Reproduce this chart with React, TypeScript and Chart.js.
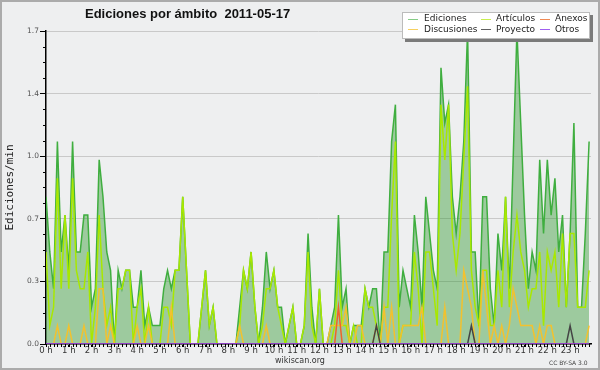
import React, { useEffect, useRef } from "react";
import { Chart, registerables } from "chart.js";

Chart.register(...registerables);

// 10-minute slots (0..143) across the day
const hourTicks = [0, 6, 12, 18, 24, 30, 36, 42, 48, 54, 60, 66, 72, 78, 84, 90, 96, 102, 108, 114, 120, 126, 132, 138];
const hourLabels = ["0 h", "1 h", "2 h", "3 h", "4 h", "5 h", "6 h", "7 h", "8 h", "9 h", "10 h", "11 h", "12 h", "13 h", "14 h", "15 h", "16 h", "17 h", "18 h", "19 h", "20 h", "21 h", "22 h", "23 h"];
const yTicks = [0, 0.34, 0.68, 1.02, 1.36, 1.7];
const yTickLabels = ["0.0", "0.3", "0.7", "1.0", "1.4", "1.7"];

const seriesNames = ["Ediciones", "Artículos", "Anexos", "Discusiones", "Proyecto", "Otros"];
const seriesColors = ["#3fae3f", "#a8e800", "#f0622a", "#f2c12e", "#444444", "#9a3cf0"];
const legendColors = ["#86cc86", "#c8ee50", "#f08a55", "#f6d060", "#606060", "#a060f0"];

const ediciones = [
  0.8, 0.5, 0.3, 1.1, 0.5, 0.7, 0.4, 1.1, 0.5, 0.5, 0.7, 0.7,
  0.2, 0.3, 1.0, 0.8, 0.5, 0.4, 0, 0.4, 0.3, 0.4, 0.4, 0.2,
  0.2, 0.4, 0.1, 0.2, 0.1, 0.1, 0.1, 0.3, 0.4, 0.3, 0.4, 0.4,
  0.8, 0.4, 0, 0, 0, 0.2, 0.4, 0.1, 0.2, 0, 0, 0,
  0, 0, 0, 0.2, 0.4, 0.3, 0.5, 0.2, 0, 0.2, 0.5, 0.3,
  0.4, 0.2, 0.2, 0, 0.1, 0.2, 0, 0, 0.1, 0.6, 0.2, 0,
  0.3, 0, 0, 0.1, 0.2, 0.7, 0.2, 0.3, 0, 0.1, 0.1, 0.1,
  0.3, 0.2, 0.3, 0.3, 0, 0.5, 0.5, 1.1, 1.3, 0.2, 0.4, 0.3,
  0.2, 0.7, 0.5, 0.2, 0.8, 0.6, 0.4, 0.3, 1.5, 1.2, 1.3, 0.8,
  0.6, 0.8, 1.1, 1.7, 0.5, 0.5, 0.1, 0.8, 0.8, 0.3, 0.1, 0.6,
  0.4, 0.8, 0.3, 1.0, 1.7, 1.2, 0.7, 0.3, 0.5, 0.4, 1.0, 0.6,
  1.0, 0.7, 0.9, 0.5, 0.7, 0.2, 0.6, 1.2, 0.2, 0.2, 0.6, 1.1,
];

const articulos = [
  0.5, 0.1, 0.2, 0.9, 0.3, 0.7, 0.3, 0.9, 0.4, 0.3, 0.3, 0.5,
  0, 0.2, 0.7, 0.3, 0.1, 0.2, 0, 0.3, 0.3, 0.4, 0.4, 0,
  0.2, 0.3, 0, 0.2, 0, 0, 0, 0.2, 0.2, 0.1, 0.4, 0.4,
  0.8, 0.4, 0, 0, 0, 0.2, 0.4, 0.1, 0.2, 0, 0, 0,
  0, 0, 0, 0.1, 0.4, 0.3, 0.5, 0.2, 0, 0.1, 0.3, 0.3,
  0.4, 0.2, 0.1, 0, 0.1, 0.2, 0, 0, 0.1, 0.5, 0.1, 0,
  0.3, 0, 0, 0, 0.1, 0.4, 0.1, 0.1, 0, 0.1, 0, 0,
  0.3, 0.2, 0.2, 0.1, 0, 0.2, 0.2, 0.7, 1.1, 0, 0.1, 0.1,
  0.1, 0.5, 0.3, 0, 0.5, 0.5, 0.3, 0.1, 1.3, 1.0, 1.3, 0.6,
  0.4, 0.6, 1.0, 1.4, 0.4, 0.2, 0.1, 0.4, 0.4, 0.1, 0.1, 0.4,
  0.2, 0.8, 0.2, 0.5, 0.7, 0.5, 0.4, 0.2, 0.3, 0.3, 0.5, 0.1,
  0.5, 0.4, 0.5, 0.2, 0.6, 0.2, 0.6, 0.6, 0.2, 0.2, 0.2, 0.4,
];

const anexos = [
  0, 0, 0, 0, 0, 0, 0, 0, 0, 0, 0, 0,
  0, 0, 0, 0, 0, 0, 0, 0, 0, 0, 0, 0,
  0, 0, 0, 0, 0, 0, 0, 0, 0, 0, 0, 0,
  0, 0, 0, 0, 0, 0, 0, 0, 0, 0, 0, 0,
  0, 0, 0, 0, 0, 0, 0, 0, 0, 0, 0, 0,
  0, 0, 0, 0, 0, 0, 0, 0, 0, 0, 0, 0,
  0, 0, 0, 0, 0, 0.2, 0, 0, 0, 0, 0, 0,
  0, 0, 0, 0, 0, 0, 0, 0, 0, 0, 0, 0,
  0, 0, 0, 0, 0, 0, 0, 0, 0, 0, 0, 0,
  0, 0, 0, 0, 0, 0, 0, 0, 0, 0, 0, 0,
  0, 0, 0, 0, 0, 0, 0, 0, 0, 0, 0, 0,
  0, 0, 0, 0, 0, 0, 0, 0, 0, 0, 0, 0,
];

const discusiones = [
  0, 0, 0, 0.1, 0, 0, 0.1, 0, 0, 0, 0.1, 0,
  0, 0, 0.3, 0.3, 0, 0.1, 0, 0, 0, 0, 0, 0,
  0.1, 0, 0, 0.1, 0, 0, 0, 0, 0, 0.2, 0, 0,
  0, 0, 0, 0, 0, 0, 0, 0, 0, 0, 0, 0,
  0, 0, 0, 0.1, 0, 0, 0, 0, 0, 0, 0.1, 0,
  0, 0, 0, 0, 0, 0, 0, 0, 0, 0, 0, 0,
  0, 0, 0, 0.1, 0.1, 0.1, 0.1, 0.2, 0, 0, 0.1, 0.1,
  0, 0, 0, 0.1, 0, 0.2, 0, 0.2, 0, 0, 0.1, 0.1,
  0.1, 0.1, 0.1, 0.2, 0, 0, 0, 0, 0, 0.2, 0, 0,
  0, 0, 0.4, 0.3, 0.2, 0, 0, 0.4, 0.2, 0, 0.1, 0,
  0.1, 0, 0.1, 0.3, 0.2, 0.1, 0.1, 0.1, 0.1, 0, 0.1, 0,
  0.1, 0.1, 0, 0, 0, 0, 0, 0, 0, 0, 0, 0.1,
];

const proyecto = [
  0, 0, 0, 0, 0, 0, 0, 0, 0, 0, 0, 0,
  0, 0, 0, 0, 0, 0, 0, 0, 0, 0, 0, 0,
  0, 0, 0, 0, 0, 0, 0, 0, 0, 0, 0, 0,
  0, 0, 0, 0, 0, 0, 0, 0, 0, 0, 0, 0,
  0, 0, 0, 0, 0, 0, 0, 0, 0, 0, 0, 0,
  0, 0, 0, 0, 0, 0, 0, 0, 0, 0, 0, 0,
  0, 0, 0, 0, 0, 0, 0, 0, 0, 0, 0, 0,
  0, 0, 0, 0.1, 0, 0, 0, 0, 0, 0, 0, 0,
  0, 0, 0, 0, 0, 0, 0, 0, 0, 0, 0, 0,
  0, 0, 0, 0, 0.1, 0, 0, 0, 0, 0, 0, 0,
  0, 0, 0, 0, 0, 0, 0, 0, 0, 0, 0, 0,
  0, 0, 0, 0, 0, 0, 0.1, 0, 0, 0, 0, 0,
];

const otros = [
  0, 0, 0, 0, 0, 0, 0, 0, 0, 0, 0, 0,
  0, 0, 0, 0, 0, 0, 0, 0, 0, 0, 0, 0,
  0, 0, 0, 0, 0, 0, 0, 0, 0, 0, 0, 0,
  0, 0, 0, 0, 0, 0, 0, 0, 0, 0, 0, 0,
  0, 0, 0, 0, 0, 0, 0, 0, 0, 0, 0, 0,
  0, 0, 0, 0, 0, 0, 0, 0, 0, 0, 0, 0,
  0, 0, 0, 0, 0, 0, 0, 0, 0, 0, 0, 0,
  0, 0, 0, 0, 0, 0, 0, 0, 0, 0, 0, 0,
  0, 0, 0, 0, 0, 0, 0, 0, 0, 0, 0, 0,
  0, 0, 0, 0, 0, 0, 0, 0, 0, 0, 0, 0,
  0, 0, 0, 0, 0, 0, 0, 0, 0, 0, 0, 0,
  0, 0, 0, 0, 0, 0, 0, 0, 0, 0, 0, 0,
];

const seriesValues = [ediciones, articulos, anexos, discusiones, proyecto, otros];
const seriesOrder = [6, 5, 3, 4, 2, 1];
const yMinorStep = 0.085;

const minorTicks = {
  id: "minorTicks",
  afterDraw(chart: any) {
    const { ctx, chartArea } = chart;
    const x = chart.scales.x;
    const y = chart.scales.y;
    ctx.save();
    ctx.strokeStyle = "#000";
    ctx.lineWidth = 1;
    ctx.beginPath();
    for (let i = 0; i < ediciones.length; i++) {
      const px = Math.round(x.getPixelForValue(i)) + 0.5;
      ctx.moveTo(px, chartArea.bottom);
      ctx.lineTo(px, chartArea.bottom + 3);
    }
    for (let k = 1; k < 20; k++) {
      if (k % 4 === 0) continue;
      const py = Math.round(y.getPixelForValue(k * yMinorStep)) + 0.5;
      ctx.moveTo(chartArea.left - 3, py);
      ctx.lineTo(chartArea.left, py);
    }
    ctx.stroke();
    ctx.restore();
  },
};

export default function App() {
  const canvasRef = useRef<HTMLCanvasElement>(null);

  useEffect(() => {
    document.body.style.margin = "0";
    const datasets = seriesNames.map((name, s) => ({
      label: name,
      data: seriesValues[s].map((v, i) => ({ x: i, y: v })),
      borderColor: seriesColors[s],
      backgroundColor: s === 0 ? "rgba(45,150,45,0.42)" : seriesColors[s],
      fill: s === 0 ? "origin" : false,
      borderWidth: 1.5,
      pointRadius: 0,
      tension: 0,
      order: seriesOrder[s],
    }));

    const chart = new Chart(canvasRef.current as HTMLCanvasElement, {
      type: "line",
      data: { datasets } as any,
      options: {
        animation: false,
        responsive: false,
        maintainAspectRatio: false,
        layout: { padding: { top: 31, right: 9, left: 0, bottom: 0 } },
        plugins: {
          legend: { display: false },
          title: { display: false },
          tooltip: { enabled: false },
        },
        scales: {
          x: {
            type: "linear",
            min: 0,
            max: 143.5,
            z: 1,
            afterBuildTicks: (s: any) => {
              s.ticks = hourTicks.map((v) => ({ value: v }));
            },
            afterFit: (s: any) => {
              s.height = 26;
            },
            ticks: {
              autoSkip: false,
              maxRotation: 0,
              minRotation: 0,
              padding: -1,
              color: "#333",
              font: { family: "DejaVu Sans", size: 8.5 },
              callback: (_v: any, idx: number) => hourLabels[idx],
            },
            grid: { drawOnChartArea: false, drawTicks: true, tickLength: 3, color: "#000", tickColor: "#000" },
            border: { color: "#000", width: 1.5 },
          },
          y: {
            min: 0,
            max: 1.7,
            afterBuildTicks: (s: any) => {
              s.ticks = yTicks.map((v) => ({ value: v }));
            },
            afterFit: (s: any) => {
              s.width = 46;
            },
            ticks: {
              padding: 1,
              color: "#555",
              font: { family: "DejaVu Sans", size: 7.5 },
              callback: (_v: any, idx: number) => yTickLabels[idx],
            },
            grid: { color: "#c9c9c9", tickColor: "#000", tickLength: 6, lineWidth: 1 },
            border: { color: "#000", width: 1.5 },
            title: {
              display: true,
              text: "Ediciones/min",
              color: "#222",
              font: { family: "DejaVu Sans Mono", size: 11 },
              padding: { top: 4, bottom: 0 },
            },
          },
        },
      } as any,
      plugins: [minorTicks],
    });
    return () => chart.destroy();
  }, []);

  const dashLeft = [5, 78, 137];
  const textLeft = [21, 93, 152];
  const rowTextTop = [1.1, 11.7];
  const rowDashTop = [6, 16.3];

  return (
    <div style={{ position: "absolute", left: 0, top: 0, width: 600, height: 370, background: "#eeeff0", overflow: "hidden" }}>
      <canvas ref={canvasRef} width={600} height={370} style={{ position: "absolute", left: 0, top: 0, width: 600, height: 370 }} />
      <div
        style={{
          position: "absolute",
          left: 85,
          top: 7,
          font: "bold 13px 'Liberation Sans'",
          lineHeight: "13px",
          color: "#111",
          whiteSpace: "pre",
        }}
      >
        {"Ediciones por ámbito  2011-05-17"}
      </div>
      <div
        style={{
          position: "absolute",
          left: 402,
          top: 12,
          width: 188,
          height: 27,
          boxSizing: "border-box",
          background: "#fff",
          border: "1px solid #bbb",
          boxShadow: "3px 3px 0 #7a7a7a",
        }}
      >
        {seriesNames.map((name, s) => {
          const col = s % 3;
          const row = Math.floor(s / 3);
          return (
            <React.Fragment key={name}>
              <div
                style={{
                  position: "absolute",
                  left: dashLeft[col],
                  top: rowDashTop[row],
                  width: 10,
                  height: 1,
                  background: legendColors[s],
                }}
              />
              <div
                style={{
                  position: "absolute",
                  left: textLeft[col],
                  top: rowTextTop[row],
                  font: "9px 'DejaVu Sans'",
                  lineHeight: "9px",
                  color: "#222",
                  whiteSpace: "pre",
                }}
              >
                {name}
              </div>
            </React.Fragment>
          );
        })}
      </div>
      <div
        style={{
          position: "absolute",
          left: 250,
          width: 100,
          top: 357,
          textAlign: "center",
          font: "8px 'DejaVu Sans'",
          lineHeight: "8px",
          color: "#333",
        }}
      >
        wikiscan.org
      </div>
      <div
        style={{
          position: "absolute",
          left: 549,
          top: 359.5,
          font: "6px 'DejaVu Sans'",
          lineHeight: "6px",
          color: "#444",
          whiteSpace: "pre",
        }}
      >
        CC BY-SA 3.0
      </div>
      <div
        style={{
          position: "absolute",
          left: 0,
          top: 0,
          width: 600,
          height: 370,
          boxSizing: "border-box",
          border: "2px solid #ababab",
          pointerEvents: "none",
        }}
      />
    </div>
  );
}
